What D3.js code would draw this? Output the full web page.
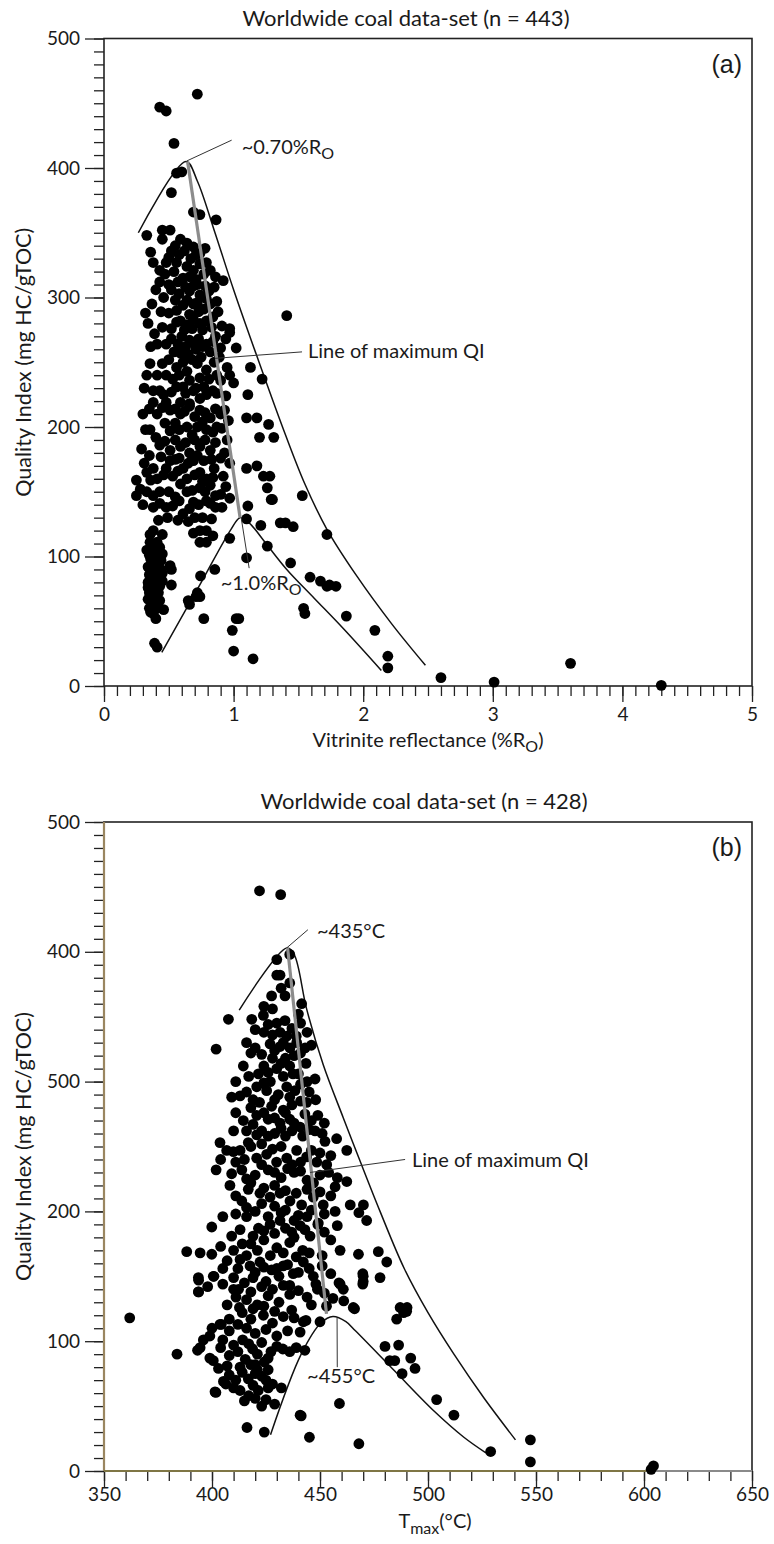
<!DOCTYPE html>
<html>
<head>
<meta charset="utf-8">
<script src="https://cdn.jsdelivr.net/npm/d3@7"></script>
<style>
  body { margin: 0; background: #fff; }
  svg text { font-family: Lato, "Open Sans", sans-serif; fill: #1a1a1a; }
  .tick text { font-size: 19px; }
  .title { font-size: 22px; }
  .y-label { font-size: 21.5px; }
  .x-label { font-size: 20px; }
  .note { font-size: 20px; }
  .panel-tag { font-family: "Liberation Sans", Arial, sans-serif !important; font-size: 25px; }
</style>
</head>
<body>
<svg id="chart" width="774" height="1544"></svg>
<script>
// ---- data: panel (a)  [vitrinite reflectance %Ro, QI mg HC/gTOC] ----
const pointsA = [
  [0.72,457],[0.43,447],[0.48,444],[0.54,419],[0.56,396],[0.60,397],[0.52,381],[0.69,366],[0.74,364],
  [0.865,360],[0.45,352],[0.51,352],[0.33,348],[0.45,345],
  [0.59,345],[0.64,342],[0.69,339],[0.74,334],[0.52,336],[0.38,327],[0.48,327],[0.56,327],[0.64,324],
  [0.69,321],[0.74,326],[0.79,327],[0.77,318],[0.61,315],[0.82,321],[0.43,321],[0.92,313],[0.43,312],
  [0.52,306],[0.58,303],[0.66,305],[0.74,302],[0.81,305],[0.61,294],[0.69,295],[0.77,291],[0.82,295],
  [0.37,295],[0.32,288],[0.50,288],[1.41,286],[0.55,298],[0.72,310],
  [0.59,282],[0.64,279],[0.69,283],[0.74,280],[0.79,282],[0.84,285],[0.60,270],[0.66,267],[0.73,268],
  [0.79,264],[0.86,270],[0.90,261],[0.97,276],[0.97,273],[0.41,264],[0.48,264],[1.02,261],[0.54,258],
  [0.59,257],[0.65,256],[0.71,260],[0.76,262],[0.82,258],
  [0.355,249],[0.45,249],[1.13,246],[0.56,246],[0.64,243],[0.72,249],[0.79,244],[0.87,240],[0.95,246],
  [1.0,234],[0.61,231],[0.69,228],[0.77,231],[0.84,228],[0.90,236],[1.22,237],[0.43,228],[0.38,228],
  [0.38,219],[0.48,219],[0.59,219],[1.11,225],[0.66,218],[0.74,222],[0.94,224],
  [0.51,213],[0.59,210],[0.66,216],[0.74,213],[0.82,207],[0.90,210],[0.72,200],[0.79,198],[0.87,200],
  [0.64,200],[0.30,210],[0.41,210],[1.10,207],[1.18,207],[1.27,202],[0.355,198],[0.55,203],[0.96,205],
  [1.20,192],[1.31,192],[0.43,186],[0.51,182],[0.59,185],[0.66,180],[0.74,185],[0.82,182],[0.90,176],
  [0.38,168],[0.48,168],[0.61,168],[0.74,165],[0.85,168],[0.97,172],[1.10,168],[1.18,170],[0.33,165],
  [1.23,162],[1.28,162],[0.55,175],[0.69,174],[0.79,160],
  [0.25,159],[0.36,159],[1.26,153],[0.33,150],[0.43,150],[0.25,147],[0.38,147],[0.59,156],[0.64,150],
  [0.74,153],[0.82,155],[0.90,148],[0.97,145],[0.69,142],[0.79,143],[1.53,147],[1.29,144],[1.30,144],
  [0.38,138],[0.48,138],[0.61,133],[1.11,139],[0.86,138],
  [1.10,129],[1.36,126],[1.40,126],[1.46,123],[1.21,124],[0.74,120],[0.79,120],[0.355,117],[1.72,117],
  [0.74,111],[0.79,111],[0.355,111],[0.41,111],[1.26,108],[0.97,114],[0.33,105],[0.40,104],[0.45,102],
  [0.36,98],[0.41,96],[0.34,92],[0.44,90],[0.37,88],[0.41,84],[0.34,80],[0.45,81],[0.38,77],[0.35,72],
  [0.42,72],[0.34,67],[0.43,66],[0.37,62],[0.36,57],[0.40,52],[0.46,59],[0.35,60],[0.52,90],[0.52,78],
  [1.10,99],[0.51,93],[0.855,90],[0.745,85],[1.44,95],[1.59,84],[1.67,81],[1.74,78],[1.72,77],[1.79,77],
  [0.72,72],[0.74,69],[0.71,69],[0.65,66],[0.66,63],[1.54,60],[1.55,56],[0.77,52],[1.02,52],[1.04,52],
  [0.99,43],[0.39,33],[0.41,30],[1.0,27],[1.15,21],[1.87,54],[2.09,43],[2.19,23],[2.19,14],[2.6,6.5],
  [3.01,3],[3.6,17.5],[4.3,0.5],
  // dense core
  [0.55,340],[0.62,336],[0.78,338],[0.50,331],[0.58,333],[0.67,330],[0.71,333],
  [0.47,318],[0.54,320],[0.66,316],[0.71,314],[0.86,316],
  [0.50,310],[0.57,312],[0.63,308],[0.69,309],[0.78,309],[0.85,308],
  [0.46,300],[0.64,298],[0.72,296],[0.79,299],[0.87,297],
  [0.44,289],[0.56,290],[0.66,287],[0.73,289],[0.88,289],
  [0.45,277],[0.52,276],[0.56,281],[0.62,275],[0.68,276],[0.76,275],[0.83,277],[0.91,278],
  [0.52,268],[0.57,264],[0.63,262],[0.69,265],[0.84,266],[0.94,268],
  [0.50,252],[0.61,250],[0.68,252],[0.75,254],[0.85,250],[0.89,254],
  [0.41,240],[0.48,240],[0.53,237],[0.58,240],[0.66,236],[0.74,238],[0.81,237],[0.97,240],
  [0.46,225],[0.52,227],[0.56,231],[0.63,226],[0.71,230],[0.79,225],[0.87,226],
  [0.45,215],[0.55,214],[0.62,212],[0.70,208],[0.78,211],[0.86,214],[0.93,213],
  [0.47,203],[0.51,197],[0.58,198],[0.68,194],[0.76,204],[0.84,196],[0.91,199],
  [0.40,192],[0.47,189],[0.55,190],[0.63,188],[0.70,190],[0.78,190],[0.86,188],[0.95,190],
  [0.44,177],[0.51,174],[0.58,176],[0.65,172],[0.72,178],[0.77,174],[0.83,175],[0.93,180],
  [0.41,160],[0.46,163],[0.53,162],[0.57,166],[0.64,160],[0.70,163],[0.76,158],[0.84,161],[0.92,162],
  [0.50,150],[0.55,146],[0.68,151],[0.78,150],[0.86,147],[0.94,154],
  [0.43,141],[0.53,139],[0.58,143],[0.66,137],[0.73,140],[0.82,141],[0.91,138],
  [0.42,128],[0.49,130],[0.57,128],[0.65,127],[0.70,130],[0.76,130],[0.83,129],
  [0.38,120],[0.45,117],[0.69,118],[0.84,116],
  // low-Ro column
  [0.38,108],[0.43,107],[0.35,101],[0.39,99],[0.44,97],[0.38,93],[0.41,90],[0.35,86],[0.40,80],[0.43,77],
  [0.37,70],[0.39,65],[0.41,60],[0.38,56],[0.34,76],[0.45,87],
  // left edge
  [0.36,335],[0.40,306],[0.34,280],[0.39,272],[0.36,262],[0.33,240],[0.31,230],[0.35,214],[0.32,198],
  [0.29,183],[0.35,178],[0.31,172],[0.28,152],[0.30,140]
];
const envelopeA = [[0.265,350],[0.633,405],[0.72,390],[0.85,352],[1.0,306],[1.2,249],[1.4,194],[1.55,156],
  [1.72,121],[1.95,85],[2.22,48],[2.48,16]];
const innerA = [[0.446,26],[0.75,80],[0.98,121],[1.05,130],[1.12,126],[1.25,110],[1.41,90],[1.62,68],
  [1.85,44],[2.14,12]];
const maxLineA = [[0.645,405],[1.05,130]];
const xTicksA = [0, 1, 2, 3, 4, 5];

// ---- data: panel (b)  [Tmax °C, QI mg HC/gTOC] ----
const pointsB = [
  [422,447],[431.8,444],[436,398],[430,394],[430,382],[431.5,382],[427.6,366],[433.8,366],[441.5,360],
  [407.6,348],[418.4,348],[423.8,351],[426,344],[430,345],[433.8,347],[437,341],[431.5,338],[434.6,335],
  [401.9,325],[420,326],[426.9,329],[431.5,327],[436.1,326],[439.2,330],[443.1,326],[443.5,314],[414.5,312],
  [421.5,306],[426,307],[430,310],[433,304],[437.5,306],[428,318],[434,318],[447.7,302],
  [409.1,288],[413,289],[420.7,296],[425.3,293],[430.7,290],[434.6,296],[438.4,293],[443.8,284],[422,284],
  [427.6,281],[433,278],[437,282],[441,285],
  [414.5,270],[420.7,274],[426,271],[431.5,268],[436,271],[440.8,265],[446,270],[447.7,262],[423,262],
  [429,260],[434,258],
  [403.7,253],[406.8,247],[409.9,246],[413,247],[416.8,253],[420.7,259],[452.3,254],[457.7,256],[462.4,247],
  [420.7,241],[425.3,244],[429.9,238],[434.6,241],[439.2,247],[443.8,242],[448.5,238],[453.1,236],
  [401.9,232],[409.1,229],[413.8,232],[420,228],[426,232],[432,226],[438,230],[444,224],[450,228],[408.3,220],
  [413.8,208],[416.8,217],[422.2,214],[426.9,211],[431.5,214],[436.1,208],[441.5,205],[446.9,211],[451.5,205],
  [457,219],[462.4,223],[470.1,205],[471.6,193],[420,200],[426,196],[432,199],[438,193],[444,196],[449,190],
  [399.9,188],[409.1,181],[416,196],[421.5,187],[426.9,190],[431.5,193],[436.9,184],[440.8,189],[445.4,181],
  [449.2,191],[455,178],[459.3,170],[418,175],[424,178],[430,172],[436,176],[442,170],[388.3,169],[394.5,168],
  [399.9,167],[467.8,167],[477,169],[480.9,161],[477.8,149],
  [393.7,149],[400.6,150],[393.7,138],[413,163],[417.6,158],[422.2,161],[427.6,155],[433,158],[437.6,152],
  [442.3,161],[446.9,150],[410,149],[415,145],[420,153],[425,146],[431,150],[436,143],[459.3,144],[460.8,140],
  [470,150],[470,146],[458.8,145],[448.1,144],[448.8,140],[469.8,152],[469.8,144],
  [465.4,126],[487.1,126],[490.1,123],[485.5,117],[403.7,113],[418,117],[423.8,120],[428,114],[436.9,124],
  [442.3,115],[450,115],[443.5,116],[440.8,107],[412.7,126],[411.1,134],[412.3,140],[393.8,147],[393.8,138],
  [400.9,150],[361.9,118],[416,132],[421,128],[426,135],[431,130],[436,136],[466,125],[488.7,122],[490.3,126],
  [399,104],[404.3,113],[383.8,90],[393.3,93],[394.5,95],[399,87],[400.6,85],[407,81],[410,97],[414.2,101],
  [418.8,94],[423,99],[427.3,92],[432.8,94],[439,95],[443,93],[415.4,86],[420,82],[424.2,84],[486.4,97],
  [482.3,85],[484.6,85],[492,87],[494,79],[488,75],[480.1,96],
  [401.8,60.5],[406.4,67],[405.3,69],[401.4,61],[414,76],[416.8,71],[419,66],[423,73],[426,78],[421.4,62],
  [417,58],[425,55],[432.1,64],[429,51.5],[459,52],[440.8,43],[441.3,42.5],[504,55],[512,43],
  [416.2,33.5],[424.2,30],[445.1,26],[468,21],[529,15],[547.4,24],[547.4,7],[603.3,1.3],[604.4,3.9],
  // dense core
  [432,372],[436,376],[428,356],[440,352],[424,358],
  [420,340],[424,338],[428,336],[441,345],[444,338],[439,335],
  [416,330],[423,321],[429,324],[433,330],[438,320],[441,322],[446,328],[418,322],
  [417,304],[424,312],[432,314],[436,312],[440,306],[444,300],[427,300],[411,300],
  [416,292],[419,286],[424,299],[429,286],[436,288],[441,298],[445,292],[448,286],
  [411,276],[418,280],[424,276],[429,272],[434,276],[438,268],[443,275],[449,274],[452,268],
  [410,262],[416,262],[419,267],[426,258],[432,264],[437,262],[442,258],[445,263],[451,260],
  [415,240],[418,250],[423,252],[428,248],[432,250],[437,236],[441,238],[446,247],[450,245],[455,243],
  [404,240],[411,238],[416,225],[423,236],[429,230],[435,233],[441,231],[447,222],[454,230],[458,226],
  [418,222],[424,218],[429,220],[434,216],[439,214],[444,217],[450,215],[455,212],[411,212],
  [411,198],[416,203],[423,206],[429,204],[434,201],[440,197],[446,201],[452,198],[457,200],[464,205],[468,199],
  [413,186],[419,181],[424,185],[429,183],[434,187],[438,180],[443,186],[452,184],[458,189],[405,196],
  [410,170],[414,175],[421,170],[427,166],[433,168],[439,165],[445,168],[451,166],[404,173],[416,166],
  [405,156],[412,156],[419,149],[424,157],[430,156],[435,159],[440,153],[445,156],[451,158],[455,152],[407,162],
  [405,144],[410,140],[418,138],[423,142],[428,140],[433,143],[440,139],[444,134],[452,137],[456,133],[398,142],
  [407,128],[414,122],[419,125],[424,127],[429,123],[433,119],[438,118],[446,128],[453,127],[461,131],
  [408,108],[412,113],[416,110],[420,106],[425,109],[430,104],[435,108],[408,117],[400,110],[396,101],
  [404,95],[408,89],[412,92],[417,98],[421,90],[426,87],[430,96],[436,92],[405,101],
  [403,79],[408,74],[411,70],[413,80],[418,82],[421,78],[425,70],[428,67],[420,75],[426,64],[410,64],
  [415,54],[420,56],[423,50],[413,62]
];
const envelopeB = [[412.6,355],[434.6,403],[438,398],[443.8,356],[451.5,313],[460.8,272],[468.5,239],
  [477.8,200],[489,156],[500,122],[512,90],[526,56],[540.5,24]];
const innerB = [[427.1,28],[441.3,90],[450.4,114],[456,119],[462,115],[466.4,108],[484.6,77],[502.9,46],
  [516.6,26],[526.8,14]];
const maxLineB = [[435,403],[453,121]];
const xTicksB = [350, 400, 450, 500, 550, 600, 650];

// shared y axis
const yTicks = [0, 100, 200, 300, 400, 500];
const yTickLabelsA = ["0", "100", "200", "300", "400", "500"];
const yTickLabelsB = ["0", "100", "200", "500", "400", "500"];   // as printed in the source figure

const svg = d3.select("#chart");

function drawPanel(cfg) {
  const x = d3.scaleLinear().domain(cfg.xDomain).range([cfg.left, cfg.right]);
  const y = d3.scaleLinear().domain([0, 500]).range([cfg.bottom, cfg.top]);
  const g = svg.append("g");

  // frame
  g.append("rect")
    .attr("x", cfg.left).attr("y", cfg.top)
    .attr("width", cfg.right - cfg.left).attr("height", cfg.bottom - cfg.top)
    .attr("fill", "none").attr("stroke", "#222").attr("stroke-width", 1.6);

  // y axis: minor then major ticks
  g.append("g")
    .attr("transform", `translate(${cfg.left},0)`)
    .call(d3.axisLeft(y).tickValues(d3.range(0, 501, 10)).tickSize(10).tickFormat(""))
    .call(a => a.select(".domain").remove());
  g.append("g")
    .attr("transform", `translate(${cfg.left},0)`)
    .call(d3.axisLeft(y).tickValues(yTicks).tickSize(19).tickPadding(5)
      .tickFormat((d, i) => cfg.yLabels[i]))
    .call(a => a.select(".domain").remove());

  // x axis: minor then major ticks
  g.append("g")
    .attr("transform", `translate(0,${cfg.bottom})`)
    .call(d3.axisBottom(x).tickValues(d3.range(cfg.xDomain[0], cfg.xDomain[1] + cfg.xMinor / 2, cfg.xMinor))
      .tickSize(10).tickFormat(""))
    .call(a => a.select(".domain").remove());
  g.append("g")
    .attr("transform", `translate(0,${cfg.bottom})`)
    .call(d3.axisBottom(x).tickValues(cfg.xTicks).tickSize(16).tickPadding(cfg.xPad)
      .tickFormat(d3.format("d")))
    .call(a => a.select(".domain").remove());

  g.selectAll(".tick line").attr("stroke", "#222").attr("stroke-width", 1.3);

  // coloured axis lines of panel (b)
  if (cfg.axisColors) {
    g.append("line")
      .attr("x1", cfg.left).attr("x2", cfg.left).attr("y1", cfg.top).attr("y2", cfg.bottom)
      .attr("stroke", "#9a8660").attr("stroke-width", 2.2);
    g.append("line")
      .attr("x1", cfg.left).attr("x2", x(601)).attr("y1", cfg.bottom).attr("y2", cfg.bottom)
      .attr("stroke", "#7f7645").attr("stroke-width", 2.2);
    g.append("line")
      .attr("x1", x(601)).attr("x2", cfg.right).attr("y1", cfg.bottom).attr("y2", cfg.bottom)
      .attr("stroke", "#8a8a8a").attr("stroke-width", 2.2);
  }

  // envelope curves
  const line = d3.line().x(d => x(d[0])).y(d => y(d[1])).curve(d3.curveCatmullRom.alpha(0.5));
  g.append("path").datum(cfg.envelope).attr("d", line)
    .attr("fill", "none").attr("stroke", "#111").attr("stroke-width", 1.5);
  g.append("path").datum(cfg.inner).attr("d", line)
    .attr("fill", "none").attr("stroke", "#111").attr("stroke-width", 1.5);

  // points
  g.append("g").selectAll("circle")
    .data(cfg.points)
    .enter()
    .append("circle")
    .attr("cx", d => x(d[0]))
    .attr("cy", d => y(d[1]))
    .attr("r", 5.4)
    .attr("fill", "#000");

  // line of maximum QI
  g.append("path").datum(cfg.maxLine).attr("d", d3.line().x(d => x(d[0])).y(d => y(d[1])))
    .attr("stroke", "#8c8c8c").attr("stroke-width", 3.2);

  // annotations with leader lines
  cfg.notes.forEach(n => {
    g.append("line")
      .attr("x1", x(n.leader[0][0])).attr("y1", y(n.leader[0][1]))
      .attr("x2", x(n.leader[1][0])).attr("y2", y(n.leader[1][1]))
      .attr("stroke", "#333").attr("stroke-width", 1);
    const t = g.append("text").attr("class", "note")
      .attr("x", x(n.at[0])).attr("y", y(n.at[1]))
      .text(n.text);
    if (n.sub) t.append("tspan").attr("dy", 5).attr("font-size", 16).text(n.sub);
  });

  // title, panel tag, axis labels
  g.append("text").attr("class", "title")
    .attr("x", cfg.titleX).attr("y", cfg.top - 13)
    .attr("text-anchor", "middle")
    .text(cfg.title);
  g.append("text").attr("class", "panel-tag")
    .attr("x", cfg.right - 10).attr("y", cfg.top + 34)
    .attr("text-anchor", "end")
    .text(cfg.tag);
  g.append("text").attr("class", "y-label")
    .attr("text-anchor", "middle")
    .attr("transform", `translate(31,${(cfg.top + cfg.bottom) / 2}) rotate(-90)`)
    .text("Quality Index (mg HC/gTOC)");

  const xl = g.append("text").attr("class", "x-label")
    .attr("x", (cfg.left + cfg.right) / 2 + cfg.xLabelShift).attr("y", cfg.bottom + cfg.xLabelDy)
    .attr("text-anchor", "middle");
  cfg.xLabel(xl);
}

// Panel (a)
drawPanel({
  left: 104, right: 752, top: 38.5, bottom: 686,
  xDomain: [0, 5], xMinor: 0.1, xTicks: xTicksA, xPad: 6,
  yLabels: yTickLabelsA,
  points: pointsA, envelope: envelopeA, inner: innerA, maxLine: maxLineA,
  title: "Worldwide coal data-set (n = 443)", titleX: 406, tag: "(a)",
  xLabelShift: 0, xLabelDy: 61,
  xLabel: t => {
    t.append("tspan").text("Vitrinite reflectance (%R");
    t.append("tspan").attr("dy", 5).attr("font-size", 16).text("O");
    t.append("tspan").attr("dy", -5).text(")");
  },
  notes: [
    { text: "~0.70%R", sub: "O", at: [1.062, 411], leader: [[0.64, 405.5], [0.985, 421.5]] },
    { text: "Line of maximum QI", at: [1.574, 253], leader: [[0.856, 253], [1.528, 258]] },
    { text: "~1.0%R", sub: "O", at: [0.90, 74], leader: [[1.06, 129], [1.12, 91]] }
  ]
});

// Panel (b)
drawPanel({
  left: 104, right: 752, top: 822, bottom: 1471,
  xDomain: [350, 650], xMinor: 10, xTicks: xTicksB, xPad: 1,
  yLabels: yTickLabelsB, axisColors: true,
  points: pointsB, envelope: envelopeB, inner: innerB, maxLine: maxLineB,
  title: "Worldwide coal data-set (n = 428)", titleX: 424, tag: "(b)",
  xLabelShift: 7, xLabelDy: 57,
  xLabel: t => {
    t.append("tspan").text("T");
    t.append("tspan").attr("dy", 6).attr("font-size", 16).text("max");
    t.append("tspan").attr("dy", -6).text("(°C)");
  },
  notes: [
    { text: "~435°C", at: [448.6, 411], leader: [[434.6, 403], [444.4, 417]] },
    { text: "Line of maximum QI", at: [492.6, 234], leader: [[445.4, 230], [489.4, 240]] },
    { text: "~455°C", at: [444, 68], leader: [[457.9, 118], [458, 80]] }
  ]
});
</script>
</body>
</html>
